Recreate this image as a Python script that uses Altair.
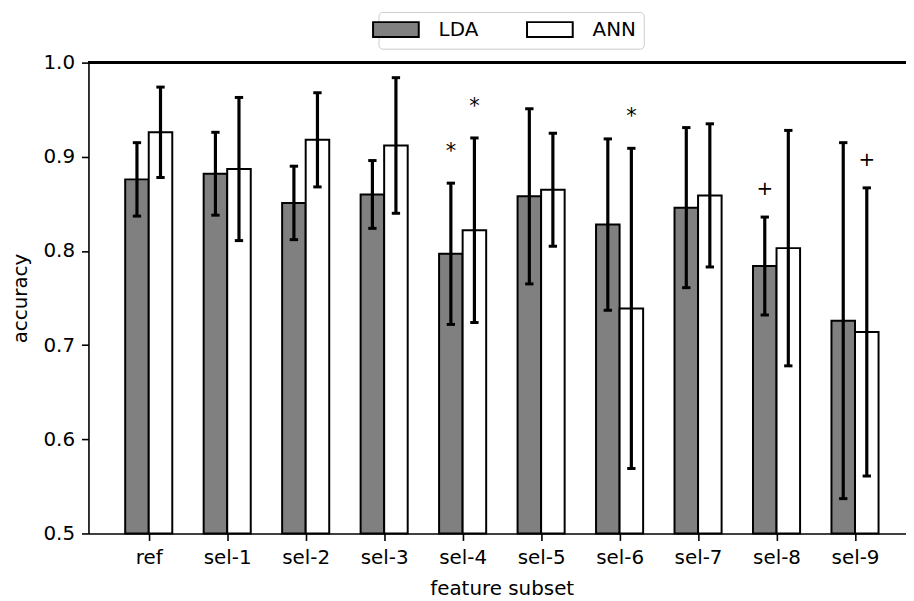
import json
import altair as alt
import pandas as pd

# ---- data ----
categories = ["ref", "sel-1", "sel-2", "sel-3", "sel-4", "sel-5", "sel-6", "sel-7", "sel-8", "sel-9"]
models = ["LDA", "ANN"]
lda_mean = [0.876, 0.882, 0.851, 0.860, 0.797, 0.858, 0.828, 0.846, 0.784, 0.726]
lda_err = [0.039, 0.044, 0.039, 0.036, 0.075, 0.093, 0.091, 0.085, 0.052, 0.189]
ann_mean = [0.926, 0.887, 0.918, 0.912, 0.822, 0.865, 0.739, 0.859, 0.803, 0.714]
ann_err = [0.048, 0.076, 0.050, 0.072, 0.098, 0.060, 0.170, 0.076, 0.125, 0.153]

marker_cats = ["sel-4", "sel-4", "sel-6", "sel-8", "sel-9"]
marker_models = ["LDA", "ANN", "ANN", "LDA", "ANN"]
marker_symbols = ["*", "*", "*", "+", "+"]
marker_y = [0.907, 0.955, 0.944, 0.867, 0.898]

FONT = "DejaVu Sans"
W, H = 823, 474

rows = []
for i, c in enumerate(categories):
    rows.append({"category": c, "idx": i, "model": "LDA", "mean": lda_mean[i], "err": lda_err[i]})
    rows.append({"category": c, "idx": i, "model": "ANN", "mean": ann_mean[i], "err": ann_err[i]})
df = pd.DataFrame(rows)

mdf = pd.DataFrame({
    "category": marker_cats,
    "idx": [categories.index(c) for c in marker_cats],
    "model": marker_models,
    "symbol": marker_symbols,
    "y": marker_y,
})

xscale = alt.Scale(domain=[-0.768, -0.768 + W / 79.0], nice=False, zero=False)
yscale = alt.Scale(domain=[0.5, 1.0], nice=False, zero=False)

label_expr = json.dumps(categories) + "[datum.value]"

xaxis = alt.Axis(values=list(range(len(categories))), labelExpr=label_expr,
                 title="feature subset", titleX=416, titleY=61, titleBaseline="alphabetic",
                 titleAnchor="start", titleAlign="center")
yaxis = alt.Axis(values=[0.5, 0.6, 0.7, 0.8, 0.9, 1.0], format=".1f",
                 title="accuracy", titleX=-68, titleY=H / 2, titleAngle=-90,
                 titleAlign="center", titleBaseline="middle")

base = alt.Chart(df).transform_calculate(
    side="datum.model == 'LDA' ? -1 : 1",
).transform_calculate(
    center="datum.idx + datum.side * 0.15",
    x0="datum.idx + (datum.side < 0 ? -0.3 : 0)",
    lo="datum.mean - datum.err",
    hi="datum.mean + datum.err",
).transform_calculate(
    x1="datum.x0 + 0.3",
    capL="datum.center - 0.053",
    capR="datum.center + 0.053",
)

bars = base.mark_bar(stroke="black", strokeWidth=2).encode(
    x=alt.X("x0:Q", scale=xscale, axis=xaxis),
    x2="x1:Q",
    y=alt.Y("mean:Q", scale=yscale, axis=yaxis),
    y2=alt.datum(0.5),
    color=alt.Color(
        "model:N",
        scale=alt.Scale(domain=models, range=["#808080", "#ffffff"]),
        legend=alt.Legend(
            title=None, orient="none", legendX=292, legendY=-51, direction="horizontal",
            symbolType="M-3.067,-1L3.067,-1L3.067,1L-3.067,1Z", symbolSize=225,
            symbolStrokeColor="black", symbolStrokeWidth=2,
            labelFont=FONT, labelFontSize=20, labelColor="black", labelOffset=33,
            columnPadding=44, padding=7.5, strokeColor="#cccccc", cornerRadius=4,
            fillColor="white", labelLimit=300,
        ),
    ),
)

errs = base.mark_rule(color="black", strokeWidth=3.2).encode(
    x="center:Q", y="lo:Q", y2="hi:Q"
)
cap_top = base.mark_rule(color="black", strokeWidth=3).encode(
    x="capL:Q", x2="capR:Q", y="hi:Q"
)
cap_bot = base.mark_rule(color="black", strokeWidth=3).encode(
    x="capL:Q", x2="capR:Q", y="lo:Q"
)

top_spine = alt.Chart(df).mark_rule(color="black", strokeWidth=1.6).encode(
    y=alt.datum(1.0), x=alt.value(0), x2=alt.value(W)
)

mbase = alt.Chart(mdf).transform_calculate(
    center="datum.idx + (datum.model == 'LDA' ? -0.15 : 0.15)"
)
stars = mbase.transform_filter("datum.symbol == '*'").mark_text(
    font=FONT, fontSize=21, color="black", baseline="alphabetic", dy=8
).encode(x="center:Q", y="y:Q", text="symbol:N")
plus = mbase.transform_filter("datum.symbol == '+'").mark_text(
    font=FONT, fontSize=20, color="black", baseline="alphabetic", dy=7
).encode(x="center:Q", y="y:Q", text="symbol:N")

chart = alt.layer(bars, errs, cap_top, cap_bot, top_spine, stars, plus).properties(
    width=W, height=H,
    autosize=alt.AutoSizeParams(type="none"),
    padding={"left": 81, "top": 53, "right": 0, "bottom": 64},
).configure_view(stroke=None).configure_axis(
    grid=False, domainColor="black", domainWidth=1.6, tickColor="black", tickWidth=1.6,
    tickSize=7, labelPadding=7, labelFont=FONT, labelFontSize=20, labelColor="black",
    titleFont=FONT, titleFontSize=20, titleFontWeight="normal", titleColor="black",
)

chart.save("out.html", embed_options={"renderer": "svg", "actions": False})
